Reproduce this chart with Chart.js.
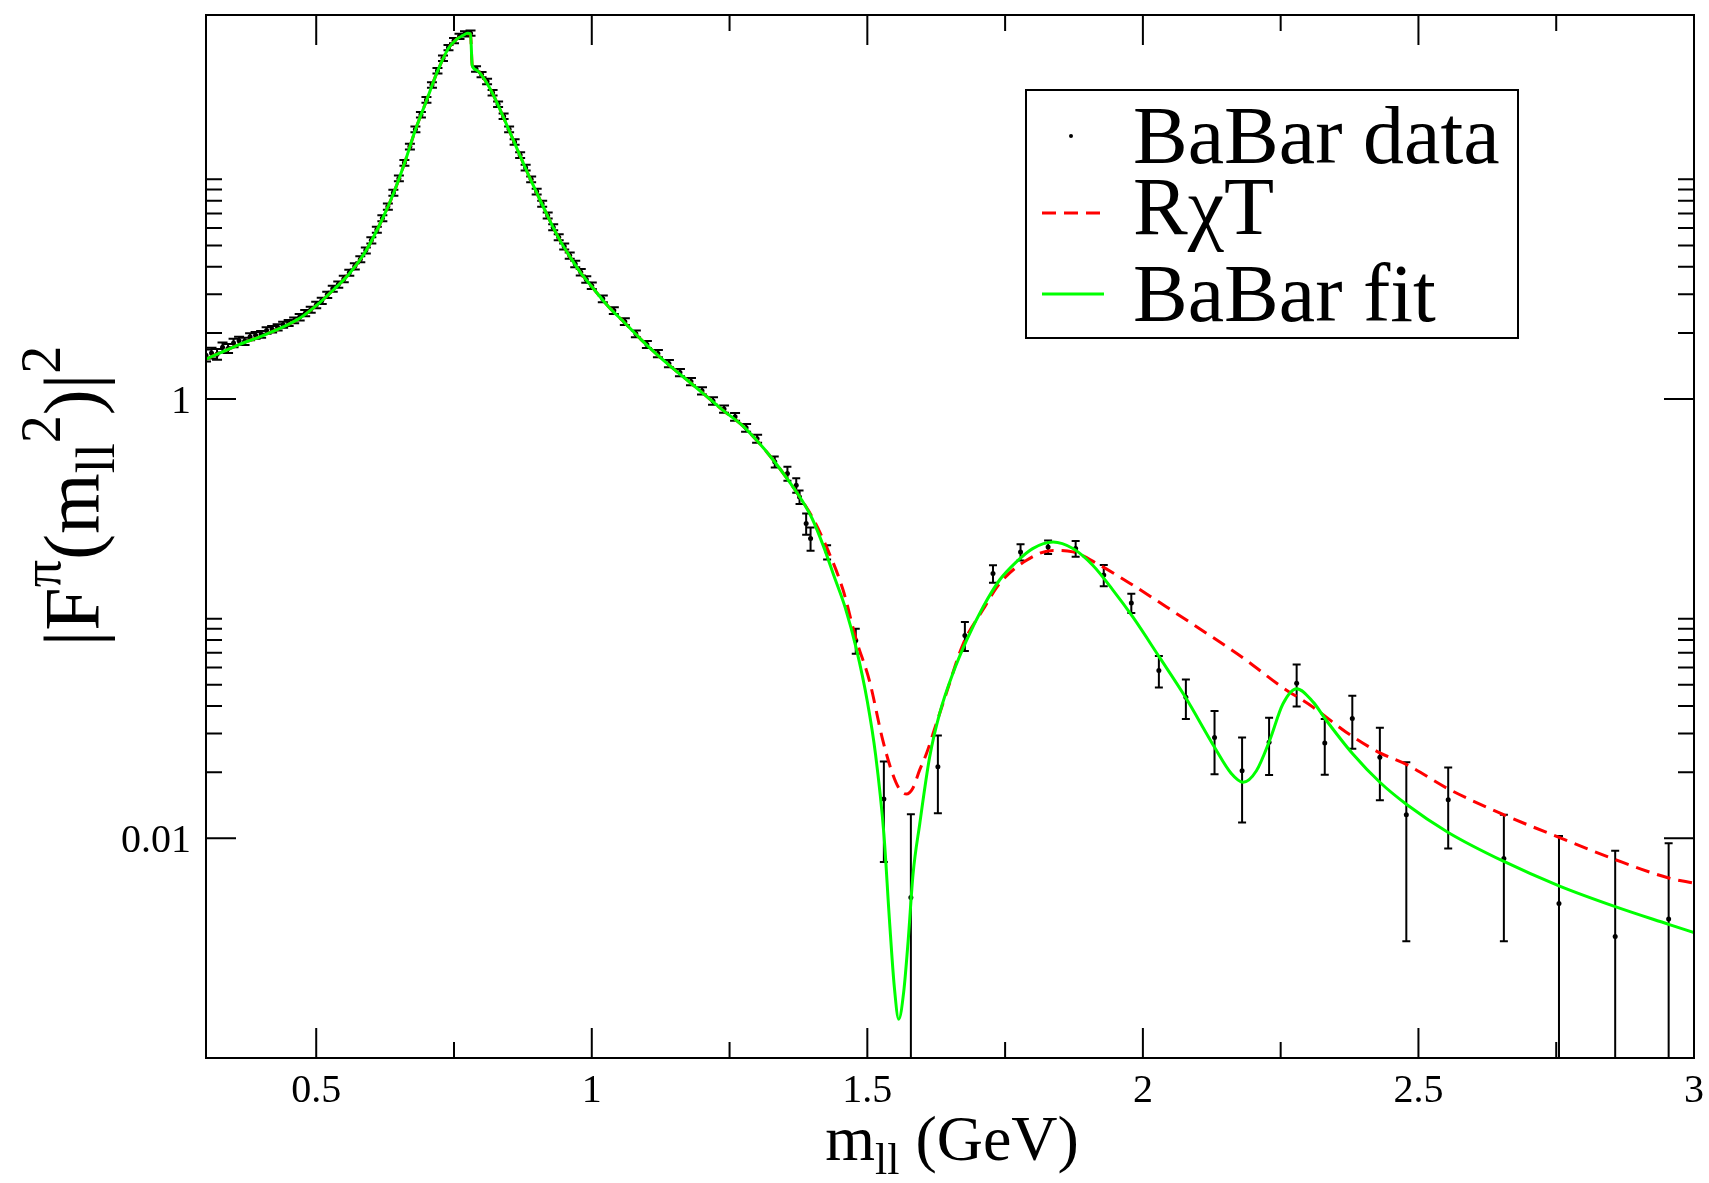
<!DOCTYPE html>
<html>
<head>
<meta charset="utf-8">
<title>|F^π(m_ll^2)|^2 - BaBar</title>
<script src="https://cdn.jsdelivr.net/npm/chart.js@4.4.1/dist/chart.umd.min.js"></script>
<style>
  html, body { margin: 0; padding: 0; background: #fff; }
  canvas { display: block; }
</style>
</head>
<body>
<canvas id="grafico" width="1709" height="1183"></canvas>
<script>
// Datos BaBar (masa en GeV, |F|^2 y error)
const masaDatos = [
    0.30, 0.31, 0.32, 0.33, 0.34, 0.35, 0.36, 0.37, 0.38, 0.39,
    0.40, 0.41, 0.42, 0.43, 0.44, 0.45, 0.46, 0.47, 0.48, 0.49,
    0.50, 0.51, 0.52, 0.53, 0.54, 0.55, 0.56, 0.57, 0.58, 0.59,
    0.60, 0.61, 0.62, 0.63, 0.64, 0.65, 0.66, 0.67, 0.68, 0.69,
    0.70, 0.71, 0.72, 0.73, 0.74, 0.75, 0.76, 0.77, 0.78, 0.79,
    0.80, 0.81, 0.82, 0.83, 0.84, 0.85, 0.86, 0.87, 0.88, 0.89,
    0.90, 0.91, 0.92, 0.93, 0.94, 0.95, 0.96, 0.97, 0.98, 0.99,
    1.00, 1.02, 1.04, 1.06, 1.08, 1.10, 1.12, 1.14, 1.16, 1.18,
    1.20, 1.22, 1.24, 1.26, 1.28, 1.30,
    1.332, 1.355, 1.371, 1.377, 1.389, 1.397, 1.427, 1.479, 1.530, 1.579,
    1.628, 1.677, 1.728, 1.778, 1.828, 1.878, 1.929, 1.979, 2.029, 2.078,
    2.130, 2.180, 2.229, 2.279, 2.330, 2.380, 2.430, 2.478, 2.554, 2.655,
    2.755, 2.857, 2.954
];
const formaDatos = [
    1.58, 1.62, 1.60, 1.72, 1.70, 1.80, 1.84, 1.83, 1.92, 1.95,
    1.97, 2.05, 2.08, 2.12, 2.18, 2.22, 2.28, 2.36, 2.46, 2.55,
    2.68, 2.80, 2.98, 3.18, 3.32, 3.52, 3.76, 4.02, 4.33, 4.75,
    5.28, 5.90, 6.65, 7.52, 8.70, 10.1, 11.9, 14.1, 16.9, 19.7,
    23.0, 26.9, 31.2, 35.6, 39.8, 42.8, 44.8, 46.0, 46.3, 31.8,
    30.0, 27.9, 24.8, 22.0, 19.4, 16.9, 14.8, 12.9, 11.3, 10.0,
    8.8, 7.75, 6.85, 6.05, 5.45, 4.95, 4.50, 4.12, 3.78, 3.50,
    3.28, 2.86, 2.53, 2.25, 1.98, 1.77, 1.61, 1.45, 1.32, 1.20,
    1.09, 0.98, 0.90, 0.83, 0.74, 0.66,
    0.518, 0.458, 0.405, 0.358, 0.271, 0.232, 0.201, 0.0796, 0.0151, 0.00538,
    0.0212, 0.0839, 0.1604, 0.201, 0.212, 0.2085, 0.158, 0.118, 0.0581, 0.0439,
    0.0288, 0.0203, 0.0274, 0.0508, 0.0272, 0.0351, 0.0234, 0.0128, 0.0150, 0.0081,
    0.00505, 0.00357, 0.00429
];
const errorDatos = [
    0.10, 0.09, 0.09, 0.09, 0.08, 0.08, 0.08, 0.07, 0.07, 0.07,
    0.07, 0.07, 0.07, 0.07, 0.07, 0.07, 0.07, 0.08, 0.08, 0.08,
    0.09, 0.09, 0.10, 0.10, 0.11, 0.12, 0.12, 0.13, 0.14, 0.15,
    0.17, 0.19, 0.21, 0.24, 0.27, 0.31, 0.36, 0.42, 0.50, 0.58,
    0.68, 0.79, 0.90, 1.00, 1.10, 1.18, 1.22, 1.25, 1.25, 0.90,
    0.85, 0.80, 0.72, 0.64, 0.56, 0.50, 0.44, 0.39, 0.34, 0.30,
    0.27, 0.24, 0.21, 0.19, 0.17, 0.16, 0.15, 0.14, 0.13, 0.12,
    0.11, 0.10, 0.09, 0.08, 0.07, 0.065, 0.06, 0.055, 0.05, 0.045,
    0.042, 0.038, 0.035, 0.033, 0.03, 0.028,
    0.03, 0.033, 0.031, 0.025, 0.03, 0.028, 0.015, 0.0104, 0.0073, 0.0075,
    0.0082, 0.0126, 0.0146, 0.017, 0.015, 0.017, 0.0174, 0.012, 0.0095, 0.009,
    0.0092, 0.0085, 0.008, 0.011, 0.0077, 0.0095, 0.0085, 0.0094, 0.006, 0.0047,
    0.0052, 0.0052, 0.0052
];

// Ajuste BaBar (curva verde)
const masaAjuste = [
    0.30, 0.33, 0.36, 0.40, 0.44, 0.47, 0.50, 0.53, 0.56, 0.59,
    0.62, 0.64, 0.66, 0.68, 0.70, 0.72, 0.74, 0.755, 0.765, 0.775,
    0.780, 0.783, 0.79, 0.80, 0.82, 0.85, 0.88, 0.90, 0.92, 0.94,
    0.96, 0.98, 1.00, 1.03, 1.06, 1.09, 1.12, 1.15, 1.18, 1.21,
    1.24, 1.27, 1.30, 1.33, 1.36, 1.38, 1.40, 1.42, 1.44, 1.46,
    1.48, 1.50, 1.515, 1.53, 1.54, 1.549, 1.557, 1.566, 1.574, 1.583,
    1.595, 1.613, 1.631, 1.655, 1.68, 1.71, 1.74, 1.77, 1.80, 1.837,
    1.873, 1.909, 1.946, 1.982, 2.03, 2.077, 2.13, 2.16, 2.182, 2.206,
    2.23, 2.254, 2.279, 2.309, 2.333, 2.381, 2.43, 2.478, 2.554, 2.655,
    2.755, 2.857, 2.954, 3.0
];
const formaAjuste = [
    1.52, 1.64, 1.77, 1.93, 2.13, 2.33, 2.66, 3.12, 3.72, 4.72,
    6.6, 8.6, 11.8, 16.8, 22.8, 31.0, 39.5, 43.5, 45.0, 46.2,
    46.0, 33.0, 31.5, 29.8, 24.6, 16.7, 11.2, 8.7, 6.8, 5.4,
    4.46, 3.75, 3.25, 2.64, 2.22, 1.86, 1.58, 1.36, 1.18, 1.02,
    0.88, 0.77, 0.645, 0.525, 0.415, 0.35, 0.285, 0.215, 0.155, 0.112,
    0.073, 0.042, 0.024, 0.0105, 0.0043, 0.0021, 0.0015, 0.0020, 0.0034, 0.0069,
    0.0116, 0.0234, 0.0369, 0.0561, 0.0796, 0.113, 0.150, 0.181, 0.2085, 0.2234,
    0.2085, 0.175, 0.1346, 0.1016, 0.0668, 0.0440, 0.026, 0.0198, 0.0180, 0.0203,
    0.0279, 0.0409, 0.048, 0.0417, 0.0344, 0.0242, 0.018, 0.0143, 0.01064, 0.00785,
    0.00608, 0.00489, 0.00406, 0.00372
];

// Curva RχT (roja discontinua)
const masaRxT = [
    0.30, 0.33, 0.36, 0.40, 0.44, 0.47, 0.50, 0.53, 0.56, 0.59,
    0.62, 0.64, 0.66, 0.68, 0.70, 0.72, 0.74, 0.755, 0.765, 0.775,
    0.780, 0.783, 0.79, 0.80, 0.82, 0.85, 0.88, 0.90, 0.92, 0.94,
    0.96, 0.98, 1.00, 1.03, 1.06, 1.09, 1.12, 1.15, 1.18, 1.21,
    1.24, 1.27, 1.30, 1.33, 1.36, 1.38, 1.40, 1.426, 1.456, 1.48,
    1.504, 1.528, 1.546, 1.558, 1.571, 1.582, 1.595, 1.607, 1.625, 1.643,
    1.674, 1.71, 1.74, 1.789, 1.837, 1.873, 1.922, 1.982, 2.043, 2.103,
    2.188, 2.248, 2.309, 2.369, 2.43, 2.478, 2.554, 2.655, 2.755, 2.857,
    2.954, 3.0
];
const formaRxT = [
    1.52, 1.64, 1.77, 1.93, 2.13, 2.33, 2.66, 3.12, 3.72, 4.72,
    6.6, 8.6, 11.8, 16.8, 22.8, 31.0, 39.5, 43.5, 45.0, 46.0,
    45.8, 33.2, 31.6, 29.8, 24.6, 16.7, 11.2, 8.7, 6.8, 5.4,
    4.46, 3.75, 3.25, 2.64, 2.22, 1.86, 1.58, 1.36, 1.18, 1.02,
    0.88, 0.77, 0.645, 0.525, 0.415, 0.35, 0.29, 0.212, 0.135, 0.080,
    0.052, 0.028, 0.0196, 0.0168, 0.0159, 0.0168, 0.0205, 0.0242, 0.0332, 0.0455,
    0.0769, 0.110, 0.1445, 0.1845, 0.2046, 0.2014, 0.175, 0.142, 0.113, 0.090,
    0.0646, 0.0497, 0.0395, 0.0304, 0.0245, 0.0217, 0.0168, 0.0128, 0.0101, 0.0080,
    0.0066, 0.00625
];

// Marcas de los ejes
const ticksX = [0.5, 1, 1.5, 2, 2.5, 3];
const etiquetasX = ['0.5', '1', '1.5', '2', '2.5', '3'];
const ticksMenoresX = [0.75, 1.25, 1.75, 2.25, 2.75];
const ticksY = [0.01, 1];
const etiquetasY = ['0.01', '1'];
const ticksMenoresY = [0.02, 0.03, 0.04, 0.05, 0.06, 0.07, 0.08, 0.09, 0.1,
                       2, 3, 4, 5, 6, 7, 8, 9, 10];

const FUENTE = '"Liberation Serif", "Times New Roman", serif';

function puntos(xs, ys) {
    return xs.map((x, i) => ({ x: x, y: ys[i] }));
}

// Dibuja una secuencia de trozos de texto (sub/superíndices)
function dibujarPartes(ctx, partes, x, y) {
    partes.forEach(p => {
        ctx.font = p.size + 'px ' + FUENTE;
        ctx.fillText(p.t, x, y + p.dy);
        x += ctx.measureText(p.t).width;
    });
}
function anchoPartes(ctx, partes) {
    let w = 0;
    partes.forEach(p => {
        ctx.font = p.size + 'px ' + FUENTE;
        w += ctx.measureText(p.t).width;
    });
    return w;
}

// Barras de error, debajo de las curvas
const barrasError = {
    id: 'barrasError',
    beforeDatasetsDraw(chart) {
        const ctx = chart.ctx;
        const sx = chart.scales.x, sy = chart.scales.y;
        const area = chart.chartArea;
        ctx.save();
        ctx.beginPath();
        ctx.rect(area.left, area.top, area.right - area.left, area.bottom - area.top);
        ctx.clip();
        ctx.strokeStyle = '#000';
        ctx.lineWidth = 2;
        masaDatos.forEach((m, i) => {
            const px = sx.getPixelForValue(m);
            const alto = formaDatos[i] + errorDatos[i];
            const bajo = formaDatos[i] - errorDatos[i];
            const yTop = sy.getPixelForValue(alto);
            const yBot = bajo > 0 ? sy.getPixelForValue(bajo) : area.bottom + 5;
            const c = m < 1.33 ? 5 : 4;
            ctx.beginPath();
            ctx.moveTo(px, yTop);
            ctx.lineTo(px, yBot);
            ctx.moveTo(px - c, yTop);
            ctx.lineTo(px + c, yTop);
            if (bajo > 0) {
                ctx.moveTo(px - c, yBot);
                ctx.lineTo(px + c, yBot);
            }
            ctx.stroke();
        });
        ctx.restore();
    }
};

// Marco, marcas hacia dentro, etiquetas y títulos
const ejes = {
    id: 'ejes',
    afterDraw(chart) {
        const ctx = chart.ctx;
        const sx = chart.scales.x, sy = chart.scales.y;
        const a = chart.chartArea;
        ctx.save();
        ctx.strokeStyle = '#000';
        ctx.fillStyle = '#000';
        ctx.lineWidth = 2;
        ctx.strokeRect(a.left, a.top, a.right - a.left, a.bottom - a.top);

        ctx.beginPath();
        ticksX.forEach(v => {
            const px = sx.getPixelForValue(v);
            ctx.moveTo(px, a.bottom); ctx.lineTo(px, a.bottom - 30);
            ctx.moveTo(px, a.top); ctx.lineTo(px, a.top + 30);
        });
        ticksMenoresX.forEach(v => {
            const px = sx.getPixelForValue(v);
            ctx.moveTo(px, a.bottom); ctx.lineTo(px, a.bottom - 16);
            ctx.moveTo(px, a.top); ctx.lineTo(px, a.top + 16);
        });
        ticksY.forEach(v => {
            const py = sy.getPixelForValue(v);
            ctx.moveTo(a.left, py); ctx.lineTo(a.left + 30, py);
            ctx.moveTo(a.right, py); ctx.lineTo(a.right - 30, py);
        });
        ticksMenoresY.forEach(v => {
            const py = sy.getPixelForValue(v);
            ctx.moveTo(a.left, py); ctx.lineTo(a.left + 16, py);
            ctx.moveTo(a.right, py); ctx.lineTo(a.right - 16, py);
        });
        ctx.stroke();

        // Etiquetas de las marcas
        ctx.font = '40px ' + FUENTE;
        ctx.textAlign = 'center';
        ctx.textBaseline = 'alphabetic';
        ticksX.forEach((v, i) => {
            ctx.fillText(etiquetasX[i], sx.getPixelForValue(v), a.bottom + 44);
        });
        ctx.textAlign = 'right';
        ticksY.forEach((v, i) => {
            ctx.fillText(etiquetasY[i], a.left - 15, sy.getPixelForValue(v) + 14);
        });

        // Título eje X
        ctx.textAlign = 'left';
        const partesX = [
            { t: 'm', size: 64, dy: 0 },
            { t: 'll', size: 44, dy: 14 },
            { t: ' (GeV)', size: 64, dy: 0 }
        ];
        const wx = anchoPartes(ctx, partesX);
        dibujarPartes(ctx, partesX, 952 - wx / 2, 1160);

        // Título eje Y (girado)
        const partesY = [
            { t: '|F', size: 78, dy: 0 },
            { t: 'π', size: 54, dy: -38 },
            { t: '(m', size: 78, dy: 0 },
            { t: 'll', size: 54, dy: 16 },
            { t: '2', size: 56, dy: -38 },
            { t: ')|', size: 78, dy: 0 },
            { t: '2', size: 56, dy: -38 }
        ];
        const wy = anchoPartes(ctx, partesY);
        ctx.translate(98, 496);
        ctx.rotate(-Math.PI / 2);
        dibujarPartes(ctx, partesY, -wy / 2, 0);
        ctx.restore();
    }
};

// Leyenda en recuadro
const leyenda = {
    id: 'leyenda',
    afterDraw(chart) {
        const ctx = chart.ctx;
        ctx.save();
        ctx.fillStyle = '#fff';
        ctx.fillRect(1026, 90, 492, 248);
        ctx.strokeStyle = '#000';
        ctx.lineWidth = 2;
        ctx.strokeRect(1026, 90, 492, 248);

        ctx.fillStyle = '#000';
        ctx.beginPath();
        ctx.arc(1071, 136, 2, 0, Math.PI * 2);
        ctx.fill();

        ctx.lineWidth = 3;
        ctx.strokeStyle = '#ff0000';
        ctx.setLineDash([14, 8]);
        ctx.beginPath();
        ctx.moveTo(1042, 213);
        ctx.lineTo(1104, 213);
        ctx.stroke();

        ctx.setLineDash([]);
        ctx.strokeStyle = '#00ff00';
        ctx.beginPath();
        ctx.moveTo(1042, 294);
        ctx.lineTo(1104, 294);
        ctx.stroke();

        ctx.fillStyle = '#000';
        ctx.font = '82px ' + FUENTE;
        ctx.textAlign = 'left';
        ctx.textBaseline = 'alphabetic';
        ctx.fillText('BaBar data', 1133, 163);
        ctx.fillText('RχT', 1133, 234);
        ctx.fillText('BaBar fit', 1133, 321);
        ctx.restore();
    }
};

new Chart(document.getElementById('grafico'), {
    type: 'scatter',
    data: {
        datasets: [
            {
                label: 'BaBar fit',
                data: puntos(masaAjuste, formaAjuste),
                showLine: true,
                borderColor: '#00ff00',
                borderWidth: 3,
                pointRadius: 0,
                cubicInterpolationMode: 'monotone'
            },
            {
                label: 'RχT',
                data: puntos(masaRxT, formaRxT),
                showLine: true,
                borderColor: '#ff0000',
                borderWidth: 3,
                borderDash: [14, 8],
                pointRadius: 0,
                cubicInterpolationMode: 'monotone'
            },
            {
                label: 'BaBar data',
                data: puntos(masaDatos, formaDatos),
                pointRadius: 2.5,
                pointBackgroundColor: '#000',
                pointBorderWidth: 0
            }
        ]
    },
    options: {
        responsive: false,
        animation: false,
        devicePixelRatio: 1,
        layout: { padding: { left: 206, right: 15, top: 15, bottom: 125 } },
        scales: {
            x: { type: 'linear', min: 0.3, max: 3, display: false },
            y: { type: 'logarithmic', min: 0.001, max: 56, display: false }
        },
        plugins: {
            legend: { display: false },
            tooltip: { enabled: false }
        }
    },
    plugins: [barrasError, ejes, leyenda]
});
</script>
</body>
</html>
